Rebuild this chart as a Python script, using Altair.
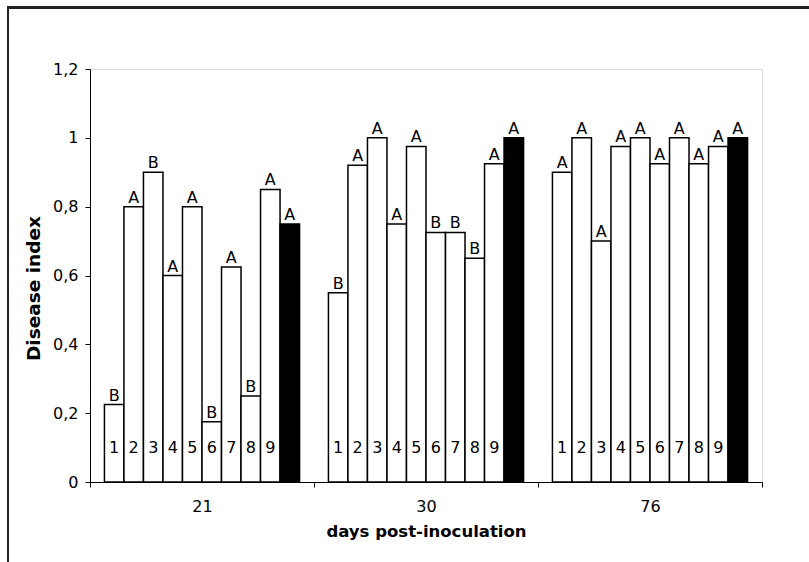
import altair as alt
import pandas as pd

days = ["21", "30", "76"]
treatments = [1, 2, 3, 4, 5, 6, 7, 8, 9, 10]
values_21 = [0.225, 0.80, 0.90, 0.60, 0.80, 0.175, 0.625, 0.25, 0.85, 0.75]
values_30 = [0.55, 0.92, 1.00, 0.75, 0.975, 0.725, 0.725, 0.65, 0.925, 1.00]
values_76 = [0.90, 1.00, 0.70, 0.975, 1.00, 0.925, 1.00, 0.925, 0.975, 1.00]
letters_21 = ["B", "A", "B", "A", "A", "B", "A", "B", "A", "A"]
letters_30 = ["B", "A", "A", "A", "A", "B", "B", "B", "A", "A"]
letters_76 = ["A", "A", "A", "A", "A", "A", "A", "A", "A", "A"]
bar_numbers = ["1", "2", "3", "4", "5", "6", "7", "8", "9", ""]
y_ticks = [0, 0.2, 0.4, 0.6, 0.8, 1.0, 1.2]

rows = []
for d, vals, lets in [("21", values_21, letters_21), ("30", values_30, letters_30), ("76", values_76, letters_76)]:
    for t, v, l, n in zip(treatments, vals, lets, bar_numbers):
        rows.append({"day": d, "trt": t, "value": v, "letter": l, "num": n,
                     "fill": "#000000" if t == 10 else "#ffffff"})
df = pd.DataFrame(rows)

FONT = "DejaVu Sans"

x_enc = alt.X("day:N", sort=days,
              scale=alt.Scale(paddingInner=0, paddingOuter=0),
              axis=alt.Axis(title="days post-inoculation", labelAngle=0,
                            tickBand="extent", tickSize=5, tickColor="#000000",
                            domainColor="#000000", labelFontSize=16, labelPadding=11,
                            titleFontSize=16.5, titleFontWeight="bold", titlePadding=9,
                            labelFont=FONT, titleFont=FONT, labelColor="#000", titleColor="#000"))
xo_enc = alt.XOffset("trt:O", sort=treatments, scale=alt.Scale(paddingInner=0, paddingOuter=0.74))

y_scale = alt.Scale(domain=[0, 1.2], nice=False)

bars = alt.Chart(df).mark_bar(stroke="#000000", strokeWidth=1.5).encode(
    x=x_enc,
    xOffset=xo_enc,
    y=alt.Y("value:Q", scale=y_scale,
            axis=alt.Axis(title="Disease index", values=y_ticks, grid=False,
                          labelExpr="replace(toString(datum.value), '.', ',')",
                          tickSize=5, tickColor="#000000", domainColor="#000000",
                          labelFontSize=16, labelPadding=7,
                          titleFontSize=18.5, titleFontWeight="bold",
                          titleX=-51, titleY=219, titleAngle=270,
                          titleAlign="center", titleBaseline="alphabetic",
                          labelFont=FONT, titleFont=FONT, labelColor="#000", titleColor="#000")),
    color=alt.Color("fill:N", scale=None),
)

letters = alt.Chart(df).mark_text(baseline="bottom", dy=-1, fontSize=16, font=FONT, color="#000").encode(
    x=alt.X("day:N", sort=days),
    xOffset=xo_enc,
    y=alt.Y("value:Q", scale=y_scale),
    text="letter:N",
)

numbers = alt.Chart(df).mark_text(baseline="middle", fontSize=16, font=FONT, color="#000").encode(
    x=alt.X("day:N", sort=days),
    xOffset=xo_enc,
    y=alt.datum(0.1, type="quantitative"),
    text="num:N",
)

frame = alt.Chart(df).mark_rect(fillOpacity=0, stroke="#222222", strokeWidth=2, clip=False).encode(
    x=alt.value(-82), x2=alt.value(900), y=alt.value(-61.5), y2=alt.value(700)
)

chart = alt.layer(frame, bars, letters, numbers).properties(
    width=672, height=413,
    autosize=alt.AutoSizeParams(type="none"),
    padding={"left": 90, "top": 69, "right": 47, "bottom": 80},
).configure_view(stroke="#999999", strokeWidth=1.5).configure(background="#ffffff")

chart.save("out.html", embed_options={"renderer": "svg", "actions": False})
